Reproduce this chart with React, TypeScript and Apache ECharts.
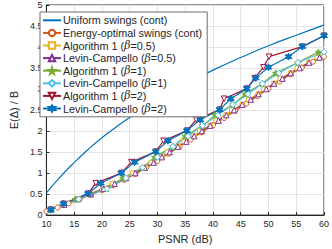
import React, { useEffect, useRef } from "react";
import * as echarts from "echarts";

const uniformX = [10, 12.5, 15, 17.5, 20, 22.5, 25, 27.5, 30, 35, 40, 45, 50, 55, 60];
const uniformY = [0.53, 0.91, 1.25, 1.56, 1.84, 2.09, 2.32, 2.53, 2.74, 3.12, 3.45, 3.75, 4.03, 4.28, 4.52];

const energyX = [10, 12, 14, 16, 18, 20, 22, 24, 26, 28, 30, 32, 34, 36, 38, 40, 42, 44, 46, 48, 50, 52, 54, 56, 58, 60];
const energyY = [0.09, 0.18, 0.28, 0.38, 0.48, 0.59, 0.71, 0.84, 0.98, 1.13, 1.29, 1.46, 1.63, 1.8, 1.97, 2.14, 2.31, 2.48, 2.65, 2.83, 3.01, 3.18, 3.35, 3.51, 3.65, 3.77];

const alg05X = [10.8, 12.8, 15.6, 17.5, 20.3, 21.9, 24.3, 25.6, 27.7, 28.9, 30.8, 31.8, 33.7, 34.8, 36.6, 37.6, 39.5, 40.6, 42.4, 43.4, 45.3, 46.4, 48.2, 49.2, 51.0, 52.1, 54.0, 55.2, 57.3, 58.8];
const lc05X = [10.8, 13.2, 15.6, 18.0, 20.3, 22.3, 24.3, 26.0, 27.7, 29.3, 30.8, 32.2, 33.7, 35.2, 36.6, 38.0, 39.5, 41.0, 42.4, 43.8, 45.3, 46.8, 48.2, 49.6, 51.0, 52.5, 54.0, 55.6, 57.3, 59.2];
const beta05Y = [0.13, 0.25, 0.38, 0.5, 0.63, 0.75, 0.88, 1.0, 1.13, 1.25, 1.38, 1.5, 1.63, 1.75, 1.88, 2.0, 2.13, 2.25, 2.38, 2.5, 2.63, 2.75, 2.88, 3.0, 3.13, 3.25, 3.38, 3.5, 3.63, 3.75];

const alg1X = [10.8, 15.2, 20.9, 23.8, 27.3, 29.5, 32.8, 35.0, 38.1, 40.4, 43.6, 45.8, 48.9, 51.3, 55.3, 59.0];
const lc1X = [10.8, 15.8, 20.9, 24.3, 27.3, 30.0, 32.8, 35.5, 38.1, 40.9, 43.6, 46.3, 48.9, 51.9, 55.3, 60];
const beta1Y = [0.13, 0.38, 0.63, 0.88, 1.13, 1.38, 1.63, 1.88, 2.13, 2.38, 2.63, 2.88, 3.13, 3.38, 3.63, 3.88];

const alg2X = [10.8, 13.1, 17.5, 18.9, 23.5, 25.3, 29.7, 31.1, 35.3, 37.0, 41.2, 42.0, 46.1, 47.5, 49.1, 50.1, 56.1, 60];
const lc2X = [10.8, 13.1, 17.5, 19.8, 23.5, 25.9, 29.7, 31.9, 35.3, 37.7, 41.2, 43.2, 46.1, 47.7, 50.0, 53.6, 56.1, 60];
const beta2Y = [0.13, 0.27, 0.51, 0.76, 1.0, 1.26, 1.51, 1.77, 2.01, 2.27, 2.51, 2.77, 3.01, 3.26, 3.52, 3.77, 4.01, 4.27];

const names = [
  "Uniform swings (cont)",
  "Energy-optimal swings (cont)",
  "Algorithm 1 (β=0.5)",
  "Levin-Campello (β=0.5)",
  "Algorithm 1 (β=1)",
  "Levin-Campello (β=1)",
  "Algorithm 1 (β=2)",
  "Levin-Campello (β=2)",
];

const xTicks = { min: 10, max: 60, interval: 5 };
const yTicks = { min: 0, max: 5, interval: 0.5 };

const pentagram = "path://M50,0 L61,35 L98,35 L68,57 L79,91 L50,70 L21,91 L32,57 L2,35 L39,35 Z";
const hexagram = "path://M50,0 L62,25 L93,25 L75,50 L93,75 L62,75 L50,100 L38,75 L7,75 L25,50 L7,25 L38,25 Z";

const zip = (xs: number[], ys: number[]) => xs.map((x, i) => [x, ys[i]]);

export default function App() {
  const ref = useRef<HTMLDivElement>(null);
  useEffect(() => {
    if (!ref.current) return;
    const chart = echarts.init(ref.current, null, { renderer: "svg" });
    const font = "'Liberation Sans', Arial, Helvetica, sans-serif";
    const mk = (
      name: string,
      data: number[][],
      color: string,
      symbol: string,
      size: number,
      rotate = 0,
      hollow = true
    ) => ({
      type: "line",
      name,
      data,
      symbol,
      symbolSize: size,
      symbolRotate: rotate,
      showSymbol: true,
      lineStyle: { color, width: 1.2 },
      itemStyle: { color: hollow ? "#ffffff" : color, borderColor: color, borderWidth: 1 },
      emphasis: { disabled: true },
    });
    const series: any[] = [
      {
        type: "line",
        name: names[0],
        data: zip(uniformX, uniformY),
        smooth: true,
        symbol: "none",
        lineStyle: { color: "#0072BD", width: 1.2 },
        itemStyle: { color: "#0072BD" },
      },
      mk(names[1], zip(energyX, energyY), "#D95319", "circle", 5),
      mk(names[2], zip(alg05X, beta05Y), "#EDB120", "rect", 4.5),
      mk(names[3], zip(lc05X, beta05Y), "#7E2F8E", "triangle", 5.5),
      mk(names[4], zip(alg1X, beta1Y), "#77AC30", pentagram, 6.5, 0, false),
      mk(names[5], zip(lc1X, beta1Y), "#4DBEEE", "diamond", 6),
      mk(names[6], zip(alg2X, beta2Y), "#A2142F", "triangle", 5.5, 180),
      mk(names[7], zip(lc2X, beta2Y), "#0072BD", hexagram, 7, 0, false),
    ];
    chart.setOption({
      animation: false,
      textStyle: { fontFamily: font },
      grid: {
        left: 31.7,
        right: 4.3,
        top: 5,
        bottom: 29,
        show: true,
        borderColor: "#262626",
        borderWidth: 1,
        backgroundColor: "#ffffff",
      },
      legend: {
        show: true,
        orient: "vertical",
        left: 40,
        top: 12,
        padding: [2, 5, 2, 2],
        itemGap: 0,
        itemWidth: 18,
        itemHeight: 8,
        backgroundColor: "#ffffff",
        borderColor: "#6e6e6e",
        borderWidth: 1,
        data: names.map((n, i) => (i === 0 ? { name: n, itemStyle: { opacity: 0 } } : n)),
        formatter: (n: string) => n.replace("β", "{i|β}"),
        textStyle: {
          fontSize: 10.8,
          color: "#262626",
          fontFamily: font,
          lineHeight: 12.6,
          padding: [0, 0, 0, -3],
          rich: {
            i: { fontStyle: "italic", fontSize: 10.8, color: "#262626", fontFamily: "'DejaVu Serif', serif", lineHeight: 12.6 },
          },
        },
      },
      xAxis: {
        type: "value",
        min: xTicks.min,
        max: xTicks.max,
        interval: xTicks.interval,
        name: "PSNR (dB)",
        nameLocation: "middle",
        nameGap: 16,
        nameTextStyle: { fontSize: 11, color: "#262626", fontFamily: font },
        axisLine: { show: true, lineStyle: { color: "#262626", width: 1 } },
        axisTick: { show: true, inside: true, length: 3, lineStyle: { color: "#262626" } },
        axisLabel: { fontSize: 9, color: "#262626", margin: 4, fontFamily: font },
        splitLine: { show: true, lineStyle: { color: "#e3e3e3", width: 1 } },
      },
      yAxis: {
        type: "value",
        min: yTicks.min,
        max: yTicks.max,
        interval: yTicks.interval,
        name: "E(Δ) / B",
        nameLocation: "middle",
        nameGap: 20,
        nameTextStyle: { fontSize: 11, color: "#262626", fontFamily: font },
        axisLine: { show: true, lineStyle: { color: "#262626", width: 1 } },
        axisTick: { show: true, inside: true, length: 3, lineStyle: { color: "#262626" } },
        axisLabel: { fontSize: 9, color: "#262626", margin: 4, fontFamily: font },
        splitLine: { show: true, lineStyle: { color: "#e3e3e3", width: 1 } },
      },
      series,
    });
    return () => chart.dispose();
  }, []);
  return (
    <div
      ref={ref}
      style={{ position: "fixed", left: 0, top: 0, width: 332, height: 249, background: "#ffffff" }}
    />
  );
}
